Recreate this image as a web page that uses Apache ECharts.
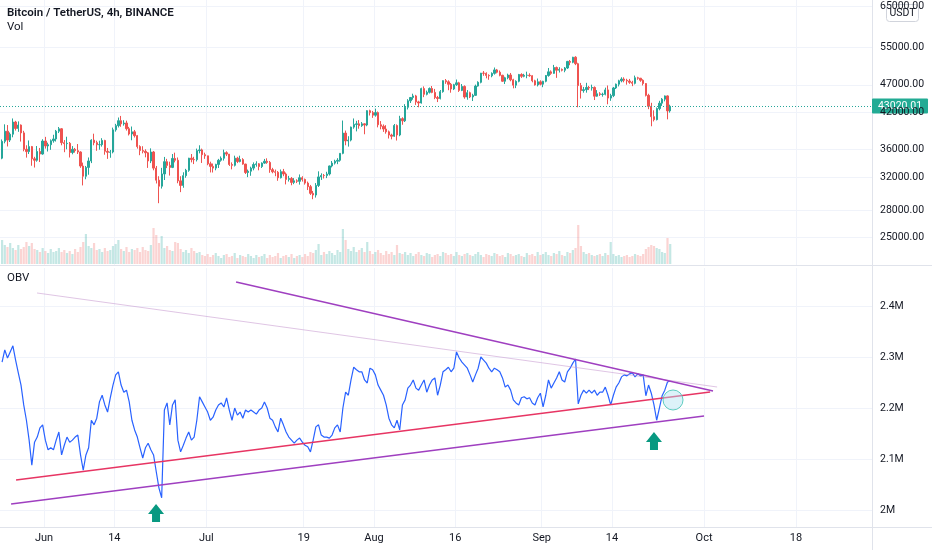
<!DOCTYPE html>
<html><head><meta charset="utf-8">
<script src="https://cdn.jsdelivr.net/npm/echarts@6/dist/echarts.min.js"></script>
<style>html,body{margin:0;padding:0;background:#fff}#c{width:932px;height:550px}</style>
</head><body><div id="c"></div>
<script>
const titleText = 'Bitcoin / TetherUS, 4h, BINANCE';
const volTitle = 'Vol';
const obvTitle = 'OBV';
const unitText = 'USDT';
const lastPrice = 43020.01;
const firstOpen = 34700;
// 12h candles from 2021-05-24 00:00 UTC
const closes = [
37200,38800, 37400,38320, 40300,39240, 39800,38530, 36000,35660, 36400,34610, 34400,35680, 35300,37250,
36500,36690, 37300,37570, 38800,39190, 37000,36850, 36900,35520, 36000,35800, 35600,33590, 32200,33400, 34300,37390, 37000,36690,
36700,37340, 35700,35550, 35600,39020, 39700,40520, 40000,40140, 39200,38350, 38700,38090, 36400,35820, 35700,35480, 34300,35600,
33300,31680, 30900,32510, 34200,33680, 33400,34660, 34400,31590, 31000,32280, 33000,34700, 34500,34490, 35800,35910, 35200,35040,
33900,33540, 33300,33820, 34400,34690, 35500,35290, 33800,33690, 34700,34220, 34500,33860, 32700,32880, 33300,33800, 33900,33520,
34000,34260, 34100,33090, 32800,32730, 32000,32820, 32500,31780, 31900,31390, 31600,31530, 32000,31780, 31300,30840, 30000,29790,
31000,32110, 32300,32290, 32500,33600, 34000,34270, 34400,35400, 38500,37270, 37400,39460, 39900,40000, 39700,40000, 39800,42240, 41900,41460,
41900,39850, 39600,39150, 38700,38190, 38000,39720, 38200,40870, 40500,42840, 44000,44610, 44900,43800, 43600,46280, 45200,45580,
46300,45560, 44600,44420, 45700,47830, 47600,47110, 46200,47020, 47400,45940, 46700,44700, 45500,44710, 45000,46770, 47500,49340,
49300,48870, 48800,49290, 50000,49520, 48900,47710, 48400,48960, 48000,46940, 47700,49060, 48700,48900, 48900,48810, 47800,46990, 47600,47130,
47700,48850, 49600,49290, 50500,49940, 50100,49930, 50400,51790, 51600,52700, 51300,46860, 45900,46080, 46500,46400, 46500,44850,
45300,45170, 45200,46030, 44500,44960, 46400,47130, 47800,48140, 47900,47760, 47500,47300, 48400,48310, 47900,47260, 45000,43010,
41200,40700, 42600,43570, 44300,44900, 42200,43020.01
];
const highs = [
37500,39920, 39800,38600, 40900,40500, 40410,39900, 38860,36600, 37340,36500, 34900,36490, 36200,37530,
37900,37000, 37500,38230, 39000,39480, 39290,37400, 37920,37100, 36480,36200, 36790,35700, 34070,33600, 34800,37530, 38400,37300,
37300,37690, 37440,36200, 35900,39380, 40000,41060, 41330,40600, 40530,39500, 39560,39000, 38200,36600, 36460,36000, 35600,36140,
35750,33600, 32200,33340, 34880,34600, 34200,35300, 35500,34800, 32200,32730, 33200,34750, 35300,34900, 36100,36600, 36100,35500,
35060,34200, 33940,33900, 34600,34950, 35950,35700, 35290,34100, 35060,34900, 35060,34700, 33910,33100, 33500,34100, 34260,34000,
34100,34590, 34680,34300, 33340,33100, 32900,33110, 33190,32700, 32250,32100, 31950,31800, 32440,32200, 31890,31500, 31060,30300,
31300,32860, 32590,32500, 32800,33650, 34300,34480, 34700,35400, 40550,38900, 38000,39540, 40900,40500, 40630,40300, 40100,42320, 42410,42200,
42600,42100, 40460,39900, 39780,38900, 38400,39970, 39900,41350, 41100,43390, 44300,44700, 45310,45100, 44000,46450, 46700,45900,
46500,46780, 46220,44900, 46000,47890, 48150,47900, 47370,47200, 48050,47600, 47160,46900, 46000,45700, 45300,47050, 47700,49380,
49760,49500, 49100,49500, 50500,50200, 49880,49000, 48600,49230, 49370,48200, 47900,49180, 49310,49200, 49640,49300, 48910,48000, 48250,47900,
47800,48960, 50400,49900, 51050,50700, 50560,50300, 50600,51900, 52100,52780, 52920,51500, 47380,46600, 47400,46800, 47040,46700,
45990,45600, 45500,46460, 46880,45300, 46600,47250, 48000,48500, 48490,48200, 48170,47800, 48840,48600, 48370,48100, 47360,45300,
43640,42300, 42800,44000, 44500,44980, 45000,43300
];
const lows = [
34550,36900, 36420,37100, 37830,38900, 38700,37170, 35700,34780, 35300,33630, 33380,34200, 34150,35200,
36100,35670, 35920,37000, 37170,38500, 36600,35570, 36000,34800, 35260,35500, 35300,33340, 31000,31800, 32400,34000, 36600,35780,
35940,36400, 35200,34600, 34760,35400, 38730,39400, 39510,39700, 38900,38120, 37370,37800, 36100,35130, 35400,34820, 33330,34000,
33000,31250, 28800,30600, 31700,33300, 32290,33300, 34100,31280, 30150,30700, 32000,32800, 34100,33860, 34230,35400, 34020,34600,
33700,32710, 32700,33000, 33320,34200, 34360,35000, 33600,33130, 33530,34000, 34100,33770, 32500,32080, 32260,33000, 33500,33000,
33320,33900, 33900,32660, 32600,32200, 31600,31900, 32200,31130, 31500,31020, 31160,31300, 31100,31500, 31100,30410, 29800,29280,
29480,30800, 31710,31900, 31950,32300, 33400,33800, 33850,34200, 35270,36600, 36400,37200, 39200,38770, 39200,39500, 38310,39600, 41400,41000,
41200,39420, 39100,38690, 38400,37640, 37510,37900, 37330,38000, 39850,40300, 42450,43600, 44200,43260, 42840,43500, 44670,45000,
45350,45400, 44300,43770, 44250,45500, 47200,45970, 45500,46000, 46800,45650, 45800,44380, 44200,44500, 43960,44900, 46650,47300,
48800,48290, 48000,48500, 49030,49300, 48700,47600, 47160,48100, 47700,46330, 46370,47500, 48370,48500, 48300,48600, 47500,46860, 46700,46900,
46550,47500, 48620,49000, 49200,48380, 49460,49700, 49520,50200, 50980,51400, 51000,42840, 44410,45500, 45510,46000, 45900,44140,
44740,44900, 44760,45000, 43370,44000, 44680,46200, 46700,47500, 47500,47040, 47200,46750, 47090,48000, 47600,46880, 44800,42500,
39600,40400, 40570,42300, 43080,43900, 40750,41900
];
// volume per bar, thousand BTC
const volK = [
12,9.5,8.5,10.5,8,7,9.5,7.5,8.5,11,
9,10.5,7.5,7,6,8,6.5,5.5,7.5,6,
6.5,8,6,7,5.5,6.5,5,7.5,6,8.5,
11,15,9,8,10.5,7,7.5,6,8,6.5,
7,9,10,12,7.5,6.5,8.5,6,7.5,7,
8,6,8.5,7,6.5,9.5,18,14.5,10.5,14,
8,9,7,6.5,11,10.5,7.5,6,7,5.5,
8,6.5,5.5,6,4.5,4,5,3.5,4.5,5.5,
4,3,4.5,5,3.5,4,5.5,3,4.5,4,
3.5,5,4,3,4.5,3.5,4,5,3,4.5,
3.5,4,5.5,3,4,4.5,3.5,5,3,4,
4.5,3.5,5,4,6,5.5,7,10,4.5,6,
5,6.5,5.5,4.5,7,6,17.5,12,7.5,6.5,
8.5,6,7,8,6,11,6.5,5,6,7,
5.5,4.5,6.5,5,6,4.5,9.5,5.5,5,6,
4.5,5.5,4,5,6,4.5,4,5.5,5,3.5,
4.5,5,4,6,5.5,4.5,5,4,6,4.5,
4,5,5.5,4.5,4,5,6,4.5,3.5,5,
4.5,4,5.5,5,4,4.5,3.5,5.5,5,4,
4.5,5,4,3.5,5.5,4.5,5,4,6,4.5,
5,6,4.5,4,5.5,5,6.5,4.5,4,6,
5.5,7,8,19.5,9,6,5,5.5,4.5,4,
4.5,5,4,5.5,4.5,11,5,4,4.5,3.5,
4,4.5,3.5,4,5,4.5,4,5,7.5,8.5,
9.5,9,8,7.5,6,5.5,13,10
];
// OBV in millions
const obvM = [
2.290,2.314,2.298,2.310,2.322,2.294,2.269,2.245,2.206,2.176,
2.137,2.088,2.133,2.143,2.161,2.167,2.137,2.118,2.122,2.118,
2.137,2.153,2.108,2.127,2.143,2.133,2.137,2.143,2.147,2.108,
2.078,2.108,2.122,2.176,2.167,2.180,2.212,2.225,2.206,2.192,
2.220,2.245,2.265,2.271,2.245,2.231,2.235,2.212,2.176,2.157,
2.143,2.122,2.102,2.122,2.131,2.118,2.108,2.075,2.043,2.024,
2.196,2.210,2.167,2.206,2.216,2.137,2.114,2.127,2.141,2.153,
2.137,2.143,2.176,2.222,2.212,2.202,2.192,2.176,2.182,2.196,
2.206,2.210,2.202,2.220,2.196,2.176,2.200,2.186,2.192,2.180,
2.196,2.192,2.196,2.192,2.188,2.196,2.200,2.212,2.200,2.180,
2.176,2.163,2.153,2.180,2.167,2.153,2.143,2.137,2.131,2.137,
2.141,2.133,2.127,2.124,2.114,2.137,2.163,2.167,2.147,2.143,
2.143,2.141,2.147,2.161,2.167,2.153,2.200,2.231,2.225,2.255,
2.280,2.275,2.271,2.271,2.255,2.249,2.278,2.275,2.265,2.245,
2.235,2.225,2.206,2.180,2.167,2.161,2.176,2.157,2.206,2.216,
2.239,2.245,2.255,2.239,2.235,2.245,2.255,2.231,2.245,2.255,
2.259,2.225,2.245,2.271,2.275,2.280,2.271,2.278,2.310,2.298,
2.290,2.284,2.278,2.265,2.251,2.265,2.278,2.300,2.294,2.288,
2.278,2.271,2.278,2.275,2.271,2.259,2.241,2.245,2.235,2.216,
2.210,2.206,2.220,2.222,2.218,2.220,2.210,2.206,2.220,2.229,
2.202,2.225,2.255,2.239,2.249,2.259,2.271,2.255,2.251,2.271,
2.278,2.288,2.296,2.208,2.225,2.235,2.229,2.235,2.229,2.235,
2.225,2.231,2.231,2.241,2.225,2.206,2.225,2.241,2.249,2.261,
2.265,2.263,2.267,2.269,2.261,2.267,2.263,2.265,2.224,2.245,
2.229,2.206,2.176,2.200,2.224,2.235,2.251,2.253
];
const priceTicks = [25000,28000,32000,36000,42000,47000,55000,65000];
const obvTicks = [2.0,2.1,2.2,2.3,2.4];
const dateTicks = ['2021-06-01','2021-06-14','2021-07-01','2021-07-19','2021-08-01','2021-08-16','2021-09-01','2021-09-14','2021-10-01','2021-10-18'];
const monthNames = ['Jan','Feb','Mar','Apr','May','Jun','Jul','Aug','Sep','Oct','Nov','Dec'];
// drawings on OBV pane: [time, OBV (M)]
const lineFaint = [['2021-05-30T17:00Z',2.4255],['2021-10-03T10:00Z',2.2412]];
const lineUpper = [['2021-07-06T12:00Z',2.447],['2021-10-02T16:00Z',2.2333]];
const lineMid   = [['2021-05-26T20:00Z',2.0588],['2021-10-02T03:00Z',2.2314]];
const lineLower = [['2021-05-25T22:00Z',2.0118],['2021-10-01T00:00Z',2.1843]];
const arrows = [['2021-06-21T17:00Z',1.9941],['2021-09-21T18:00Z',2.1353]];
const circleMark = [['2021-09-25T06:30Z',2.2157]];

const xMin = Date.parse('2021-05-23T20:48Z');
const xMax = Date.parse('2021-11-01T01:12Z');
const t0 = Date.parse('2021-05-24T06:00Z');
const H12 = 12*3600*1000;
const tickMs = dateTicks.map(d => Date.parse(d + 'T00:00Z'));
const toMs = arr => arr.map(p => [Date.parse(p[0]), p[1]]);

const UP = '#26a69a', DOWN = '#ef5350';
const candleData = [], volData = [], obvData = [];
for (let i = 0; i < closes.length; i++) {
  const t = t0 + i*H12;
  const o = i === 0 ? firstOpen : closes[i-1];
  candleData.push([t, o, closes[i], lows[i], highs[i]]);
  volData.push({value:[t, volK[i]], itemStyle:{color: closes[i] >= o ? 'rgba(38,166,154,0.27)' : 'rgba(239,83,80,0.25)'}});
  obvData.push([t, obvM[i]]);
}

const FONT = 'Roboto, "Liberation Sans", sans-serif';
const chart = echarts.init(document.getElementById('c'), null, {renderer:'canvas'});
const gridBase = {left:0, right:60, containLabel:false};
const splitCol = '#f0f3fa';
function trend(data, color, width, z){
  return {type:'line', xAxisIndex:2, yAxisIndex:2, data: toMs(data), showSymbol:false, symbol:'none',
    lineStyle:{color, width}, z, silent:true, animation:false};
}
function dateLabel(v){const d=new Date(v); return d.getUTCDate()===1 ? monthNames[d.getUTCMonth()] : String(d.getUTCDate());}
chart.setOption({
  animation:false,
  backgroundColor:'#ffffff',
  grid:[
    Object.assign({top:0, height:265}, gridBase),
    Object.assign({top:200, height:64}, gridBase),
    Object.assign({top:268, height:259}, gridBase)
  ],
  xAxis:[
    {type:'value', gridIndex:0, min:xMin, max:xMax, axisLine:{show:false}, axisTick:{show:false, customValues:tickMs},
     axisLabel:{show:false, customValues:tickMs}, splitLine:{show:true, lineStyle:{color:splitCol, width:1}}},
    {type:'value', gridIndex:1, min:xMin, max:xMax, show:false, splitLine:{show:false}},
    {type:'value', gridIndex:2, min:xMin, max:xMax, axisLine:{show:false}, axisTick:{show:false, customValues:tickMs},
     axisLabel:{customValues:tickMs, margin:6, color:'#131722', fontSize:11, fontFamily:FONT, formatter:dateLabel},
     splitLine:{show:true, lineStyle:{color:splitCol, width:1}}}
  ],
  yAxis:[
    {type:'log', gridIndex:0, position:'right', min:22300, max:66780, axisLine:{show:false},
     axisTick:{show:false, customValues:priceTicks},
     axisLabel:{customValues:priceTicks, margin:8, color:'#131722', fontSize:10.5, fontFamily:FONT, formatter:(v)=>Number(v).toFixed(2)},
     splitLine:{show:true, lineStyle:{color:splitCol, width:1}}},
    {type:'value', gridIndex:1, min:0, max:32, show:false, splitLine:{show:false}},
    {type:'value', gridIndex:2, position:'right', min:1.9667, max:2.4745, axisLine:{show:false},
     axisTick:{show:false, customValues:obvTicks},
     axisLabel:{customValues:obvTicks, margin:8, color:'#131722', fontSize:10.5, fontFamily:FONT,
       formatter:(v)=>{const r=Math.round(v*10)/10; return (r%1===0 ? r.toFixed(0) : r.toFixed(1)) + 'M';}},
     splitLine:{show:true, lineStyle:{color:splitCol, width:1}}}
  ],
  series:[
    {type:'bar', xAxisIndex:1, yAxisIndex:1, data:volData, barWidth:2.2, z:1, silent:true},
    {type:'candlestick', xAxisIndex:0, yAxisIndex:0, data:candleData, barWidth:1.8, z:3,
     itemStyle:{color:UP, color0:DOWN, borderColor:UP, borderColor0:DOWN, borderWidth:1},
     markLine:{symbol:'none', silent:true, label:{show:false}, data:[{yAxis:lastPrice}],
       lineStyle:{type:[1,2], color:UP, width:1}}},
    {type:'line', xAxisIndex:2, yAxisIndex:2, data:obvData, showSymbol:false, symbol:'none',
     lineStyle:{color:'#2962ff', width:1.2}, z:3},
    trend(lineFaint, 'rgba(196,150,205,0.55)', 1, 4),
    trend(lineUpper, '#9f3fc0', 1.5, 4),
    trend(lineMid, '#e73563', 1.5, 4),
    trend(lineLower, '#9f3fc0', 1.5, 4),
    {type:'scatter', xAxisIndex:2, yAxisIndex:2, data:toMs(arrows), symbol:'path://M8,0L16,10L12,10L12,18L4,18L4,10L0,10Z',
     symbolSize:[16,18], itemStyle:{color:'#089981', opacity:1}, z:6, silent:true},
    {type:'scatter', xAxisIndex:2, yAxisIndex:2, data:toMs(circleMark), symbol:'circle', symbolSize:20,
     itemStyle:{color:'rgba(178,226,242,0.45)', borderColor:'rgba(80,200,185,0.9)', borderWidth:1, opacity:1}, z:6, silent:true}
  ]
});

let py = 106;
try { const v = chart.convertToPixel({yAxisIndex:0}, lastPrice); if (isFinite(v)) py = v; } catch(e) {}
chart.setOption({
  graphic:[
    {type:'line', shape:{x1:0, y1:265.5, x2:932, y2:265.5}, style:{stroke:'#e0e3eb', lineWidth:1}, silent:true},
    {type:'line', shape:{x1:0, y1:527.5, x2:932, y2:527.5}, style:{stroke:'#e0e3eb', lineWidth:1}, silent:true},
    {type:'line', shape:{x1:872.5, y1:0, x2:872.5, y2:550}, style:{stroke:'#e0e3eb', lineWidth:1}, silent:true},
    {type:'text', left:7, top:7, style:{text:titleText, fill:'#131722', font:'600 11.5px ' + FONT}},
    {type:'text', left:7, top:21, style:{text:volTitle, fill:'#131722', font:'11.5px ' + FONT}},
    {type:'text', left:7, top:272, style:{text:obvTitle, fill:'#131722', font:'11.5px ' + FONT}},
    {type:'group', left:886, top:4, children:[
      {type:'rect', shape:{x:0, y:0, width:32, height:17, r:3}, style:{fill:'#ffffff', stroke:'#d1d4dc', lineWidth:1}},
      {type:'text', x:16, y:8.5, style:{text:unitText, fill:'#131722', font:'10.5px ' + FONT, align:'center', verticalAlign:'middle'}}
    ]},
    {type:'group', x:872, y:Math.round(py) - 7.5, children:[
      {type:'rect', shape:{x:0, y:0, width:56, height:15, r:1}, style:{fill:'#22ab94'}},
      {type:'text', x:28, y:7.5, style:{text:lastPrice.toFixed(2), fill:'#ffffff', font:'10.5px ' + FONT, align:'center', verticalAlign:'middle'}}
    ]}
  ]
});
</script></body></html>
